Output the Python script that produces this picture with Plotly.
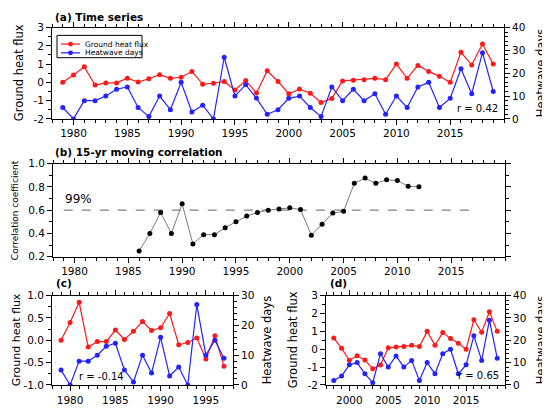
import plotly.graph_objects as go

W, H = 550, 415
OFF = 8  # page margin around the plot div

# annual series 1979-2019
years = list(range(1979, 2020))
ground_heat_flux = [0.0, 0.4, 0.85, -0.15, -0.03, -0.03, 0.23, 0.02, 0.2, 0.42,
                    0.22, 0.28, 0.6, -0.1, -0.05, 0.05, -0.42, 0.1, -0.58, 0.63,
                    0.05, -0.62, -0.37, -0.6, -1.1, -0.88, 0.08, 0.12, 0.15, 0.22,
                    0.15, 1.0, 0.22, 0.93, 0.6, 0.33, 0.0, 1.65, 0.95, 2.1, 1.0]
heatwave_days = [5, 0, 8, 8, 10, 13, 14, 5, 1, 10,
                 4, 16, 3, 6, 0, 27, 10, 15, 9, 2,
                 4, 9, 10, 5, 1, 14, 8, 13, 8, 11,
                 2, 10, 5, 14, 16, 5, 9, 22, 11, 29, 12]

# 15-yr moving correlation (centre year)
corr_years = list(range(1986, 2013))
moving_corr = [0.25, 0.40, 0.58, 0.40, 0.655, 0.31, 0.39, 0.39, 0.45, 0.50,
               0.55, 0.58, 0.60, 0.61, 0.62, 0.605, 0.385, 0.48, 0.575, 0.59,
               0.83, 0.875, 0.83, 0.86, 0.855, 0.805, 0.80]
sig_years = [1979, 2017]
sig_level = 0.6

split_year = 1998  # (c) 1979-1997, (d) 1998-2019
k = years.index(split_year)

year_ticks = [1980, 1985, 1990, 1995, 2000, 2005, 2010, 2015]
year_ticks_c = [1980, 1985, 1990, 1995]
year_ticks_d = [2000, 2005, 2010, 2015]
flux_ticks = [-2, -1, 0, 1, 2, 3]
flux_ticks_c = [-1.0, -0.5, 0.0, 0.5, 1.0]
corr_ticks = [0.2, 0.4, 0.6, 0.8, 1.0]

RED = '#ff1a1a'
BLUE = '#2323ff'
FONT = 'DejaVu Sans'


def px(x):
    return (x - OFF) / W


def py(y):
    return 1 - (y - OFF) / H


def axis(**kw):
    d = dict(showline=True, linecolor='black', linewidth=1, ticks='outside',
             ticklen=5, tickcolor='black', tickwidth=1, showgrid=False,
             zeroline=False, tickfont=dict(family=FONT, size=10.5, color='black'))
    d.update(kw)
    return d


def minor(step, start):
    return dict(ticks='outside', ticklen=3, dtick=step, tick0=start, tickcolor='black',
                tickwidth=1, showgrid=False)


def xax(lo, hi, rng, anchor, vals):
    return axis(domain=[px(lo), px(hi)], range=rng, anchor=anchor, mirror='ticks',
                tickmode='array', tickvals=vals, ticktext=[str(v) for v in vals],
                minor=minor(1, 1980))


def yax(top, bot, rng, anchor, vals, fmt, step, **kw):
    return axis(domain=[py(bot), py(top)], range=rng, anchor=anchor,
                tickmode='array', tickvals=vals, ticktext=[fmt.format(v) for v in vals],
                minor=minor(step, rng[0]), **kw)


def yright(rng, anchor, over):
    return axis(range=rng, anchor=anchor, overlaying=over, side='right', dtick=10, tick0=0,
                minor=minor(2, 0))


fig = go.Figure()

line_kw = dict(mode='lines+markers', showlegend=False)

# (a)
fig.add_trace(go.Scatter(x=years, y=ground_heat_flux, xaxis='x', yaxis='y',
                         line=dict(color=RED, width=1.2), marker=dict(size=5, color=RED), **line_kw))
fig.add_trace(go.Scatter(x=years, y=heatwave_days, xaxis='x', yaxis='y2',
                         line=dict(color=BLUE, width=1.2), marker=dict(size=5, color=BLUE), **line_kw))

# (b)
fig.add_trace(go.Scatter(x=sig_years, y=[sig_level] * len(sig_years), xaxis='x2', yaxis='y3',
                         mode='lines', showlegend=False,
                         line=dict(color='#808080', width=1.2, dash='dash')))
fig.add_trace(go.Scatter(x=corr_years, y=moving_corr, xaxis='x2', yaxis='y3',
                         line=dict(color='#7a7a7a', width=1), marker=dict(size=5, color='black'), **line_kw))

# (c)
fig.add_trace(go.Scatter(x=years[:k], y=ground_heat_flux[:k], xaxis='x3', yaxis='y4',
                         line=dict(color=RED, width=1.2), marker=dict(size=5, color=RED), **line_kw))
fig.add_trace(go.Scatter(x=years[:k], y=heatwave_days[:k], xaxis='x3', yaxis='y5',
                         line=dict(color=BLUE, width=1.2), marker=dict(size=5, color=BLUE), **line_kw))

# (d)
fig.add_trace(go.Scatter(x=years[k:], y=ground_heat_flux[k:], xaxis='x4', yaxis='y6',
                         line=dict(color=RED, width=1.2), marker=dict(size=5, color=RED), **line_kw))
fig.add_trace(go.Scatter(x=years[k:], y=heatwave_days[k:], xaxis='x4', yaxis='y7',
                         line=dict(color=BLUE, width=1.2), marker=dict(size=5, color=BLUE), **line_kw))

fig.update_layout(
    width=W, height=H, margin=dict(l=0, r=0, t=0, b=0),
    paper_bgcolor='white', plot_bgcolor='white',
    font=dict(family=FONT, color='black'),
    xaxis=xax(52, 504, [1978, 2020], 'y', year_ticks),
    yaxis=yax(22, 116, [-2, 3], 'x', flux_ticks, '{:g}', 0.5),
    yaxis2=yright([0, 40], 'x', 'y'),
    xaxis2=xax(53, 505, [1978, 2020], 'y3', year_ticks),
    yaxis3=yax(162, 258, [0.2, 1.0], 'x2', corr_ticks, '{:.1f}', 0.1, mirror='ticks'),
    xaxis3=xax(52, 233, [1978, 1998], 'y4', year_ticks_c),
    yaxis4=yax(298, 390, [-1, 1], 'x3', flux_ticks_c, '{:.1f}', 0.25),
    yaxis5=yright([0, 30], 'x3', 'y4'),
    xaxis4=xax(326, 505, [1997, 2020], 'y6', year_ticks_d),
    yaxis6=yax(298, 390, [-2, 3], 'x4', flux_ticks, '{:g}', 0.5),
    yaxis7=yright([0, 40], 'x4', 'y6'),
)

# panel labels, axis titles and notes: text, x, y, anchor, size, angle
notes = [
    ('<b>(a) Time series</b>', 53, 11, 'left', 10.5, 0),
    ('<b>(b) 15-yr moving correlation</b>', 53, 150, 'left', 10.5, 0),
    ('<b>(c)</b>', 54, 285, 'left', 10.5, 0),
    ('<b>(d)</b>', 328, 285, 'left', 10.5, 0),
    ('r = 0.42', 500, 105, 'right', 10, 0),
    ('r = -0.14', 77, 381, 'left', 10, 0),
    ('r = 0.65', 501, 380, 'right', 10, 0),
    ('99%', 63, 198, 'left', 12, 0),
    ('Ground heat flux', 19, 69, 'center', 11.5, -90),
    ('Heatwave days', 541, 69, 'center', 11.5, -90),
    ('Correlation coefficient', 15, 210, 'center', 9, -90),
    ('Ground heat flux', 16, 344, 'center', 11, -90),
    ('Heatwave days', 267, 344, 'center', 11.5, -90),
    ('Ground heat flux', 293, 344, 'center', 11.5, -90),
    ('Heatwave days', 541, 344, 'center', 11.5, -90),
]
for text, x, y, anchor, size, angle in notes:
    fig.add_annotation(text=text, x=px(x), y=py(y), xref='paper', yref='paper', xanchor=anchor,
                       yanchor='middle', showarrow=False, textangle=angle,
                       font=dict(family=FONT, size=size, color='black'))

# legend of panel (a)
fig.add_shape(type='rect', xref='paper', yref='paper', x0=px(57), x1=px(142), y0=py(53), y1=py(30),
              line=dict(color='black', width=1), fillcolor='white', layer='above')
for row_y, name, color in [(39, 'Ground heat flux', RED), (48, 'Heatwave days', BLUE)]:
    fig.add_shape(type='line', xref='paper', yref='paper', x0=px(61), x1=px(80), y0=py(row_y), y1=py(row_y),
                  line=dict(color=color, width=1.2), layer='above')
    fig.add_shape(type='circle', xref='paper', yref='paper', x0=px(68), x1=px(73),
                  y0=py(row_y + 2.5), y1=py(row_y - 2.5), line=dict(color=color, width=0),
                  fillcolor=color, layer='above')
    fig.add_annotation(text=name, x=px(83), y=py(row_y), xref='paper', yref='paper', xanchor='left',
                       yanchor='middle', showarrow=False, font=dict(family=FONT, size=7.5, color='black'))

fig.write_html("out.html")
